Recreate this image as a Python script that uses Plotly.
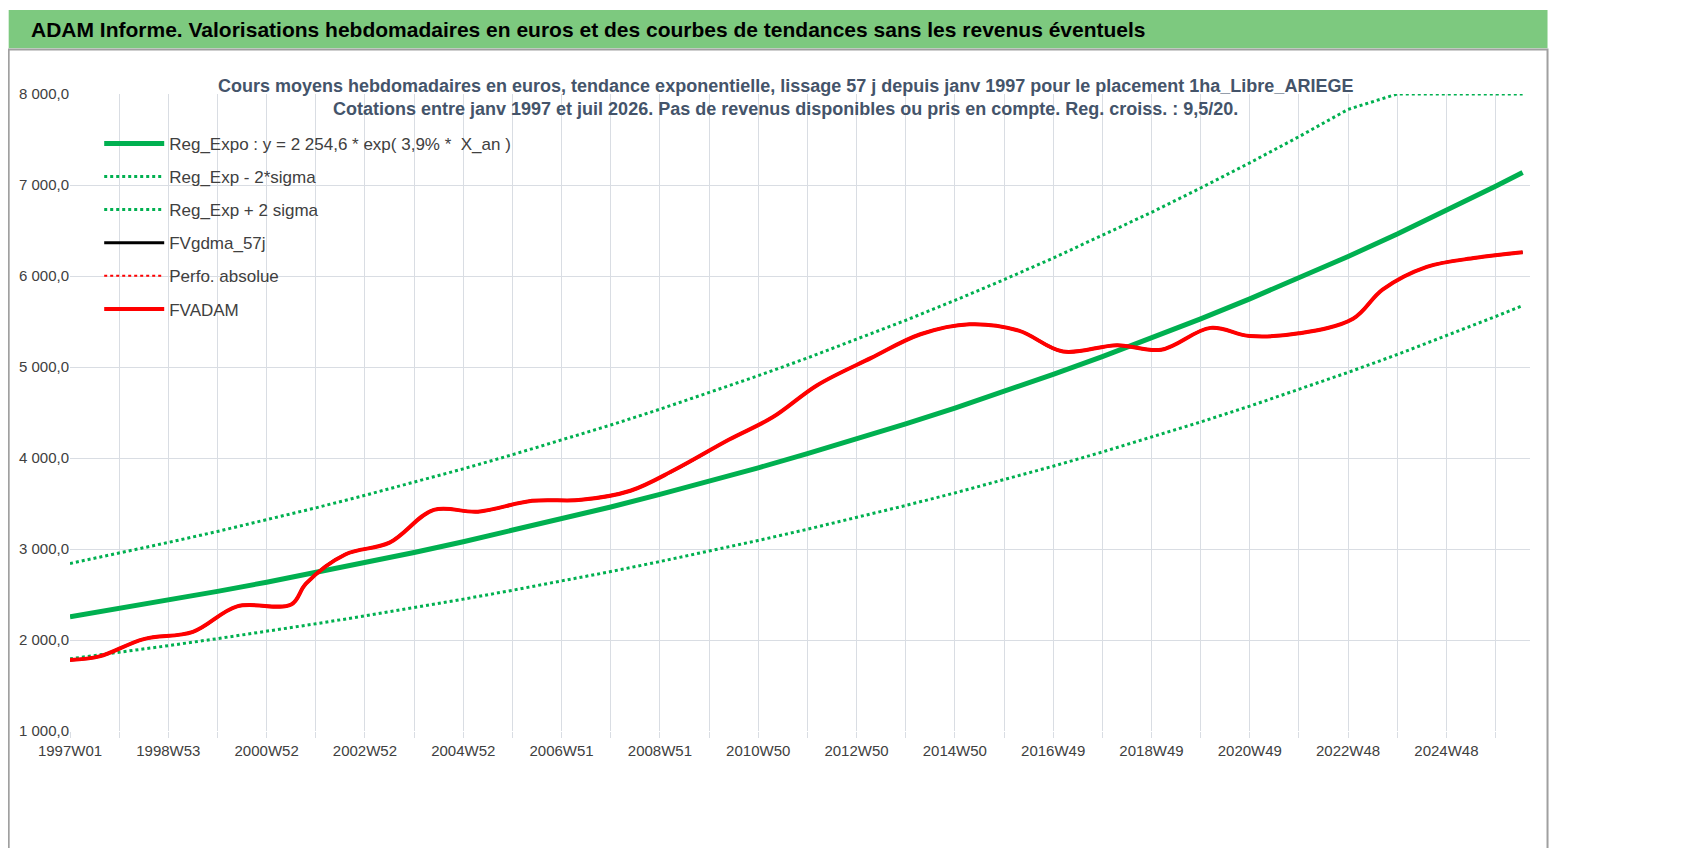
import plotly.graph_objects as go

# trend curves, one value per year (1997 .. 2026) plus the last point in 2026W30
years = [1997 + i for i in range(30)] + [2026.55]
reg_expo = [2255, 2344, 2438, 2534, 2635, 2740, 2849, 2962, 3080, 3203,
            3330, 3462, 3600, 3743, 3892, 4047, 4208, 4375, 4549, 4730,
            4918, 5114, 5317, 5529, 5749, 5977, 6215, 6462, 6719, 6987, 7138]
reg_minus = [1793, 1863, 1938, 2015, 2095, 2178, 2265, 2355, 2449, 2546,
             2647, 2752, 2862, 2976, 3094, 3217, 3345, 3478, 3616, 3760,
             3910, 4066, 4227, 4396, 4570, 4752, 4941, 5137, 5342, 5555, 5675]
reg_plus = [2841, 2953, 3072, 3193, 3320, 3452, 3590, 3732, 3881, 4036,
            4196, 4362, 4536, 4716, 4904, 5099, 5302, 5513, 5732, 5960,
            6197, 6444, 6699, 6967, 7244, 7531, 7831, 8000, 8000, 8000, 8000]

# FVADAM smoothed line
fv_x = [1997.0, 1997.6, 1998.5, 1999.5, 2000.4, 2001.5, 2001.8, 2002.6, 2003.5,
        2004.4, 2005.3, 2006.4, 2007.4, 2008.4, 2009.3, 2010.4, 2011.3, 2012.2,
        2013.3, 2014.3, 2015.3, 2016.3, 2017.2, 2018.3, 2019.2, 2020.2, 2021.0,
        2022.0, 2023.1, 2023.7, 2024.6, 2025.6, 2026.55]
fv_y = [1780, 1820, 2010, 2090, 2370, 2390, 2620, 2940, 3070, 3430,
        3410, 3530, 3540, 3640, 3870, 4200, 4450, 4800, 5100, 5360,
        5470, 5400, 5170, 5240, 5190, 5430, 5340, 5370, 5530, 5850,
        6100, 6200, 6260]

x_labels = ["1997W01", "1998W53", "2000W52", "2002W52", "2004W52", "2006W51",
            "2008W51", "2010W50", "2012W50", "2014W50", "2016W49", "2018W49",
            "2020W49", "2022W48", "2024W48"]
y_ticks = [1000, 2000, 3000, 4000, 5000, 6000, 7000, 8000]

GREEN = "#00B050"
RED = "#FF0000"
FONT = "Liberation Sans Narrow, Liberation Sans"

fig = go.Figure()
fig.add_trace(go.Scatter(x=years, y=reg_expo, mode="lines", legendgroup="a",
                         name="Reg_Expo : y = 2 254,6 * exp( 3,9% *  X_an )",
                         line=dict(color=GREEN, width=5)))
fig.add_trace(go.Scatter(x=years, y=reg_minus, mode="lines", name="Reg_Exp - 2*sigma",
                         legendgroup="b", line=dict(color=GREEN, width=3, dash="dot")))
fig.add_trace(go.Scatter(x=years, y=reg_plus, mode="lines", name="Reg_Exp + 2 sigma",
                         legendgroup="c", line=dict(color=GREEN, width=3, dash="dot")))
fig.add_trace(go.Scatter(x=fv_x, y=fv_y, mode="lines", name="FVgdma_57j", legendgroup="d",
                         line=dict(color="black", width=3, shape="spline")))
fig.add_trace(go.Scatter(x=fv_x, y=fv_y, mode="lines", name="Perfo. absolue", legendgroup="e",
                         line=dict(color=RED, width=2, dash="dot", shape="spline")))
fig.add_trace(go.Scatter(x=fv_x, y=fv_y, mode="lines", name="FVADAM", legendgroup="f",
                         line=dict(color=RED, width=4, shape="spline")))

tickvals = [1997 + i for i in range(30)]
ticktext = [x_labels[i // 2] if i % 2 == 0 else "" for i in range(30)]

fig.update_xaxes(range=[1997, 2026.7], tickvals=tickvals, ticktext=ticktext,
                 showgrid=True, gridcolor="#D9DDE3", zeroline=False,
                 tickfont=dict(family=FONT, size=15, color="#404040"),
                 ticks="outside", ticklen=6, tickcolor="#D9DDE3")
fig.update_yaxes(range=[1000, 8000], tickvals=y_ticks,
                 ticktext=[f"{v // 1000} 000,0" for v in y_ticks],
                 showgrid=True, gridcolor="#D9DDE3", zeroline=False,
                 tickfont=dict(family=FONT, size=15, color="#404040"))

fig.update_layout(
    width=1698, height=848,
    margin=dict(l=62, r=176, t=86, b=125),
    plot_bgcolor="white", paper_bgcolor="white",
    font=dict(family=FONT, color="#404040"),
    legend=dict(x=0.02, y=0.95, xanchor="left", yanchor="top",
                bgcolor="rgba(255,255,255,0)", font=dict(size=17, color="#404040"),
                itemwidth=60, tracegroupgap=8),
    shapes=[
        dict(type="rect", xref="paper", yref="paper", x0=-0.042, x1=1.012,
             y0=1.072, y1=1.132, fillcolor="#7DC97F", line=dict(width=0), layer="below"),
        dict(type="rect", xref="paper", yref="paper", x0=-0.042, x1=1.012,
             y0=-0.19, y1=1.07, fillcolor="rgba(0,0,0,0)",
             line=dict(color="#A0A0A0", width=2), layer="below"),
    ],
    annotations=[
        dict(text="<b>ADAM Informe. Valorisations hebdomadaires en euros et des courbes de tendances sans les revenus éventuels</b>",
             xref="paper", yref="paper", x=-0.028, y=1.102, xanchor="left", yanchor="middle",
             showarrow=False, font=dict(size=21, color="black", family=FONT)),
        dict(text="<b>Cours moyens hebdomadaires en euros, tendance exponentielle, lissage 57 j depuis janv 1997 pour le placement 1ha_Libre_ARIEGE</b>"
                  "<br><b>Cotations entre janv 1997 et juil 2026. Pas de revenus disponibles ou pris en compte. Reg. croiss. : 9,5/20.</b>",
             xref="paper", yref="paper", x=0.49, y=0.995, xanchor="center", yanchor="middle",
             showarrow=False, font=dict(size=18, color="#44546A", family=FONT)),
    ],
)

fig.write_html("out.html")
